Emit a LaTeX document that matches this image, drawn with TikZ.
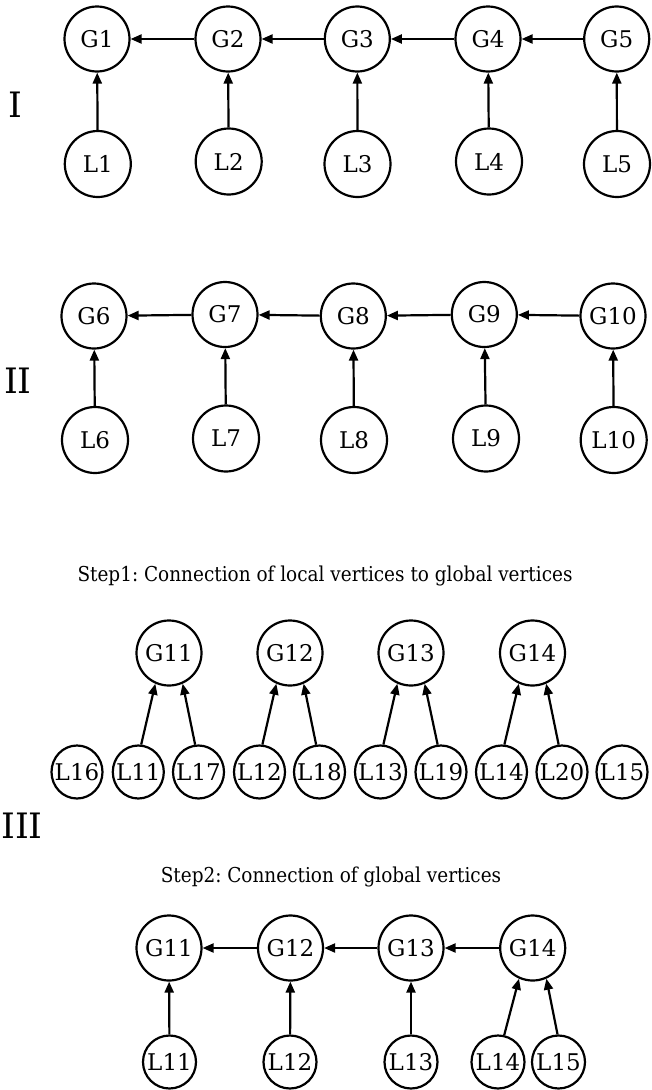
\documentclass[tikz,border=0pt]{standalone}
\usepackage{fontspec}
\setmainfont{DejaVu Serif}
\newfontfamily\narrowserif[FakeStretch=0.9]{DejaVu Serif}
\usetikzlibrary{arrows.meta,shapes.geometric}

\tikzset{
  vtx/.style={circle, draw, line width=2.2pt, inner sep=0pt, minimum size=65pt,
              font=\fontsize{23}{27}\selectfont},
  lvtx/.style={vtx, minimum size=66pt},
  lbl/.style={inner sep=0pt, font=\fontsize{23}{27}\selectfont},
  evtx/.style={ellipse, draw, line width=2.2pt, inner sep=0pt,
               minimum width=51pt, minimum height=53pt},
  fvtx/.style={evtx, minimum width=53pt},
  arr/.style={line width=2.2pt, -{Triangle[length=11pt,width=9pt]}},
  roman/.style={font=\fontsize{35}{40}\selectfont, inner sep=0pt},
  caption/.style={font=\narrowserif\fontsize{20.5}{24}\selectfont\frenchspacing, inner sep=0pt}
}

\begin{document}
\begin{tikzpicture}[x=1pt, y=-1pt]
\useasboundingbox (0,0) rectangle (651,1090);

% ---------------- part I ----------------
\node[roman] (rI) at (15,105) {I};
\node[vtx] (G1) at (97,39) {G1};
\node[vtx] (G2) at (228,39) {G2};
\node[vtx] (G3) at (357.3,39) {G3};
\node[vtx] (G4) at (488,39) {G4};
\node[vtx] (G5) at (616.7,39) {G5};
\node[lvtx] (L1) at (97.8,164) {L1};
\node[lvtx] (L2) at (228.7,161.5) {L2};
\node[lvtx] (L3) at (357.5,164) {L3};
\node[lvtx] (L4) at (489,161.5) {L4};
\node[lvtx] (L5) at (617,164) {L5};
\foreach \i in {1,...,5} \draw[arr] (L\i) -- (G\i);
\draw[arr] (G2) -- (G1);
\draw[arr] (G3) -- (G2);
\draw[arr] (G4) -- (G3);
\draw[arr] (G5) -- (G4);

% ---------------- part II ----------------
\node[roman] (rII) at (18,381) {II};
\node[vtx] (G6) at (94,316) {G6};
\node[vtx] (G7) at (225,314.5) {G7};
\node[vtx] (G8) at (353.3,316) {G8};
\node[vtx] (G9) at (484.3,314.5) {G9};
\node[vtx] (G10) at (613,316) {G10};
\node[lvtx] (L6) at (95,440) {L6};
\node[lvtx] (L7) at (226,438.5) {L7};
\node[lvtx] (L8) at (354,440) {L8};
\node[lvtx] (L9) at (486,438.5) {L9};
\node[lvtx] (L10) at (613.7,440) {L10};
\foreach \i in {6,...,10} \draw[arr] (L\i) -- (G\i);
\draw[arr] (G7) -- (G6);
\draw[arr] (G8) -- (G7);
\draw[arr] (G9) -- (G8);
\draw[arr] (G10) -- (G9);

% ---------------- part III ----------------
\node[roman] (rIII) at (22,826) {III};

% step 1
\node[caption] (cap1) at (325,576) {Step1: Connection of local vertices to global vertices};
\node[vtx] (aG11) at (169,653) {G11};
\node[vtx] (aG12) at (290,653) {G12};
\node[vtx] (aG13) at (411,653) {G13};
\node[vtx] (aG14) at (532.5,653) {G14};
\node[evtx, label={[lbl]center:L16}] (aL16) at (77,772) {};
\node[evtx, label={[lbl]center:L11}] (aL11) at (138.3,772) {};
\node[evtx, label={[lbl]center:L17}] (aL17) at (198.5,772) {};
\node[evtx, label={[lbl]center:L12}] (aL12) at (259.5,772) {};
\node[evtx, label={[lbl]center:L18}] (aL18) at (319.5,772) {};
\node[evtx, label={[lbl]center:L13}] (aL13) at (380.5,772) {};
\node[evtx, label={[lbl]center:L19}] (aL19) at (441,772) {};
\node[evtx, label={[lbl]center:L14}] (aL14) at (501.5,772) {};
\node[evtx, label={[lbl]center:L20}] (aL20) at (562,772) {};
\node[evtx, label={[lbl]center:L15}] (aL15) at (622,772) {};
\draw[arr] (aL11.84) -- (aG11.246);
\draw[arr] (aL17.97) -- (aG11.294);
\draw[arr] (aL12.84) -- (aG12.246);
\draw[arr] (aL18.97) -- (aG12.294);
\draw[arr] (aL13.84) -- (aG13.246);
\draw[arr] (aL19.97) -- (aG13.294);
\draw[arr] (aL14.84) -- (aG14.246);
\draw[arr] (aL20.97) -- (aG14.294);

% step 2
\node[caption] (cap2) at (331,877) {Step2: Connection of global vertices};
\node[vtx] (bG11) at (169,948) {G11};
\node[vtx] (bG12) at (290.5,948) {G12};
\node[vtx] (bG13) at (411,948) {G13};
\node[vtx] (bG14) at (532.7,948) {G14};
\node[fvtx, label={[lbl]center:L11}] (bL11) at (169.5,1062) {};
\node[fvtx, label={[lbl]center:L12}] (bL12) at (290,1062) {};
\node[fvtx, label={[lbl]center:L13}] (bL13) at (411,1062) {};
\node[fvtx, label={[lbl]center:L14}] (bL14) at (498,1062) {};
\node[fvtx, label={[lbl]center:L15}] (bL15) at (558.5,1062) {};
\draw[arr] (bG12) -- (bG11);
\draw[arr] (bG13) -- (bG12);
\draw[arr] (bG14) -- (bG13);
\draw[arr] (bL11) -- (bG11);
\draw[arr] (bL12) -- (bG12);
\draw[arr] (bL13) -- (bG13);
\draw[arr] (bL14.77) -- (bG14.246);
\draw[arr] (bL15.92) -- (bG14.294);
\end{tikzpicture}
\end{document}
